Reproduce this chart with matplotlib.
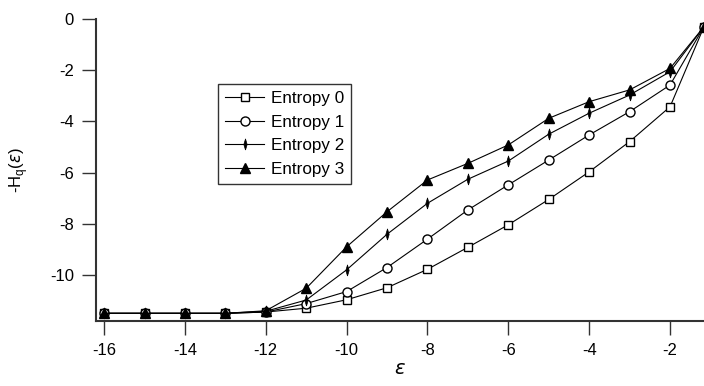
import numpy as np
import matplotlib.pyplot as plt

plt.rcParams['font.family'] = ['Liberation Sans', 'DejaVu Sans']
plt.rcParams['axes.unicode_minus'] = False

eps = [-16, -15, -14, -13, -12, -11, -10, -9, -8, -7, -6, -5, -4, -3, -2, -1.16]

entropy0 = [-11.5, -11.5, -11.5, -11.5, -11.45, -11.3, -10.97, -10.5, -9.78, -8.92,
            -8.04, -7.05, -5.97, -4.79, -3.43, -0.3]
entropy1 = [-11.5, -11.5, -11.5, -11.5, -11.45, -11.12, -10.65, -9.71, -8.6, -7.46,
            -6.48, -5.51, -4.53, -3.62, -2.58, -0.3]
entropy2 = [-11.5, -11.5, -11.5, -11.5, -11.42, -10.98, -9.8, -8.41, -7.2, -6.26,
            -5.55, -4.5, -3.68, -2.97, -2.06, -0.3]
entropy3 = [-11.5, -11.5, -11.5, -11.5, -11.4, -10.52, -8.9, -7.53, -6.29, -5.64,
            -4.92, -3.88, -3.23, -2.77, -1.93, -0.3]

labels = ['Entropy 0', 'Entropy 1', 'Entropy 2', 'Entropy 3']

# narrow vertical diamond like the original
thin_diamond = [(0, -1), (0.3, 0), (0, 1), (-0.3, 0), (0, -1)]

fig = plt.figure(figsize=(7.04, 3.86), dpi=100)
ax = fig.add_axes([96 / 704, 65 / 386, 608 / 704, 302 / 386])

ax.plot(eps, entropy0, color='black', lw=0.8, marker='s', ms=6,
        mfc='white', mec='black', mew=1, label=labels[0])
ax.plot(eps, entropy1, color='black', lw=0.8, marker='o', ms=6.5,
        mfc='white', mec='black', mew=1, label=labels[1])
ax.plot(eps, entropy2, color='black', lw=0.8, marker=thin_diamond, ms=8,
        mfc='black', mec='black', mew=0.5, label=labels[2])
ax.plot(eps, entropy3, color='black', lw=0.8, marker='^', ms=6.5,
        mfc='black', mec='black', label=labels[3])

ax.set_xlim(-16.2, -1.16)
ax.set_ylim(-11.8, 0)
ax.set_xticks([-16, -14, -12, -10, -8, -6, -4, -2])
ax.set_yticks([0, -2, -4, -6, -8, -10])

for s in ['top', 'right']:
    ax.spines[s].set_visible(False)
for s in ['left', 'bottom']:
    ax.spines[s].set_color('#333333')
    ax.spines[s].set_linewidth(1.5)

ax.tick_params(direction='out', length=10, width=1, color='#333333',
               labelsize=12, pad=6)

ax.set_xlabel(r'$\varepsilon$', fontsize=14, labelpad=2)
ax.set_ylabel(r'-H$_\mathregular{q}$($\varepsilon$)', fontsize=12, labelpad=14)

leg = ax.legend(loc='upper left', bbox_to_anchor=(0.201, 0.784), fontsize=12.3,
                frameon=True, fancybox=False, edgecolor='black',
                handlelength=2.3, handletextpad=0.4, borderpad=0.4,
                labelspacing=0.5, borderaxespad=0)
leg.get_frame().set_linewidth(1)

fig.savefig('out.png', dpi=100)
